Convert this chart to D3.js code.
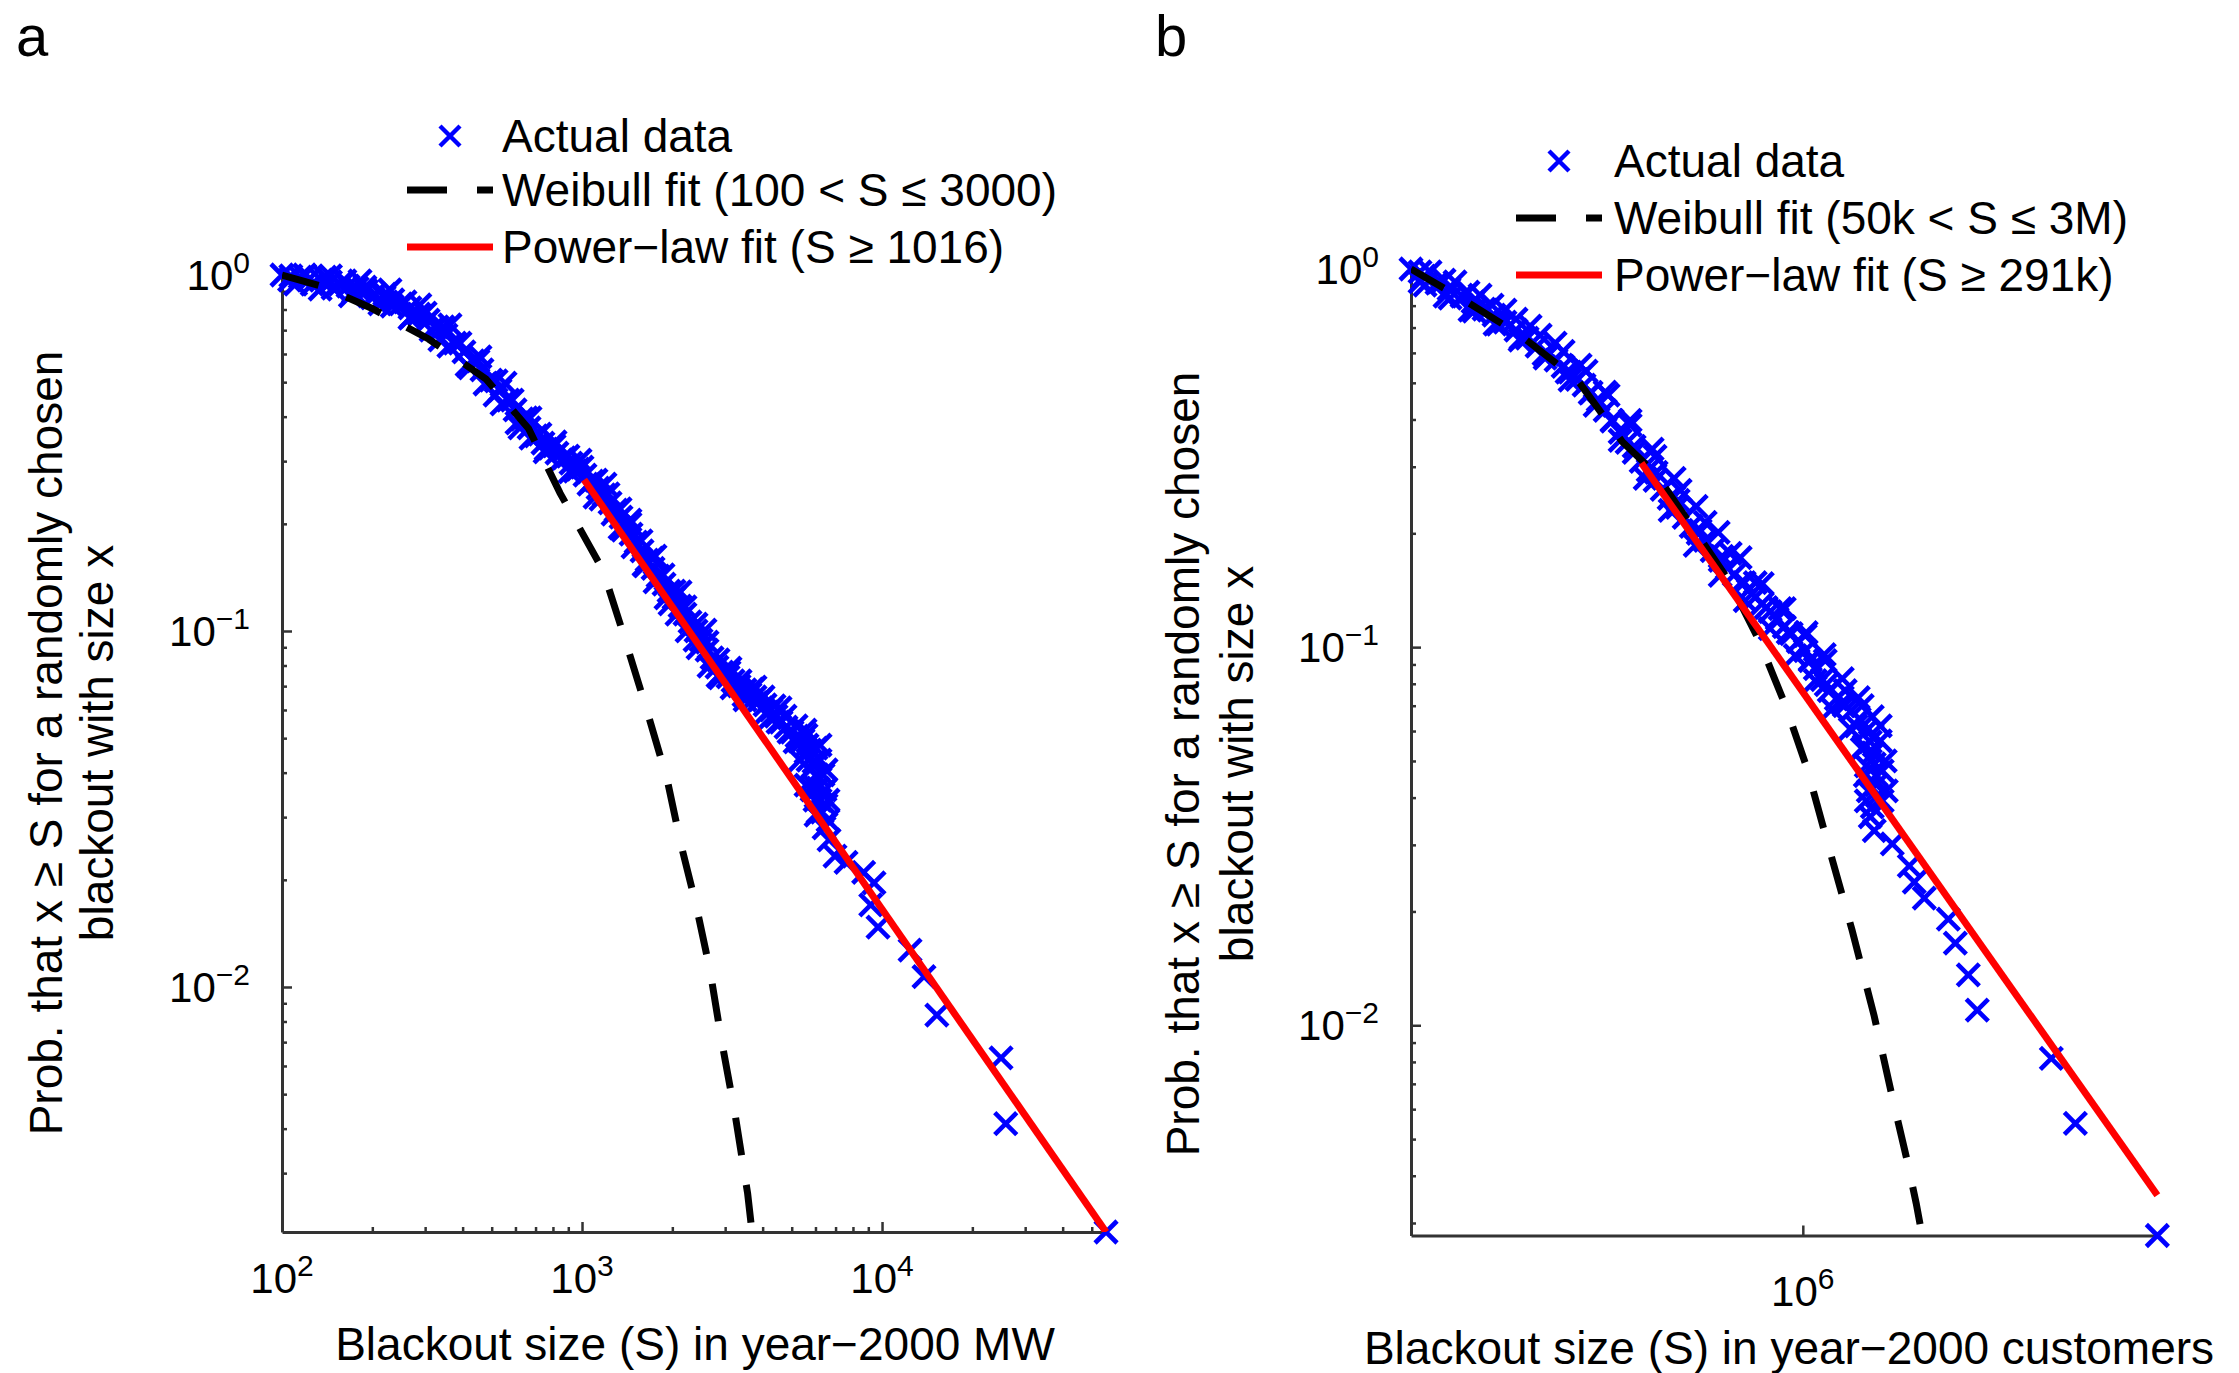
<!DOCTYPE html>
<html>
<head>
<meta charset="utf-8">
<script src="https://cdn.jsdelivr.net/npm/d3@7"></script>
<style>
  body { margin: 0; background: #fff; }
  svg { display: block; font-family: "Liberation Sans", Arial, Helvetica, sans-serif; }
</style>
</head>
<body>
<svg id="chart" width="2239" height="1373"></svg>
<script>
// ---------- panel a : blackout size in MW ----------
const mwSize = [100, 115, 135, 156, 178, 204, 234, 267, 307, 352,
  404, 464, 533, 598, 666, 741, 825, 919, 1023, 1131,
  1240, 1349, 1457, 1585, 1725, 1877, 2026, 2204, 2399, 2611,
  2818, 3067, 3337, 3631, 3920, 4266, 4607, 5012, 5454, 5754,
  5934, 6072, 6119, 6215, 6310, 6408, 6658, 6970, 7586, 8683,
  9404, 9170, 9698, 12400, 13800, 15230, 24930, 25840, 55800,
  // denser readings along the band
  107, 124, 145, 166, 191, 219, 249, 286, 329, 377,
  433, 497, 567, 631, 702, 782, 871, 970, 1080, 1184,
  1298, 1402, 1514, 1647, 1792, 1950, 2122, 2291, 2493, 2713,
  2929, 3187, 3494, 3773, 4074, 4434, 4786, 5208, 5623, 5330, 5580,
  // upper edge of the band
  145, 182, 229, 288, 363, 457, 554, 671, 813, 985,
  1193, 1445, 1751, 2122, 2570, 3114, 3773, 4571, 5538, 6215, 6506, 6607,
  // lower edge of the band
  111, 134, 169, 212, 267, 336, 423, 513, 621, 753,
  912, 1105, 1339, 1622, 1965, 2381, 2840, 3494, 4234, 5129, 5668, 5845, 6026,
  // between centre and upper edge
  119, 139, 162, 189, 220, 257, 300, 344, 392, 450,
  517, 585, 651, 724, 807, 898, 1000, 1113, 1221, 1339,
  1445, 1573, 1711, 1862, 2026, 2204, 2399, 2611, 2840, 3090,
  3363, 3687, 4012, 4365, 4750, 5168, 5581, 6026, 6215, 6359, 6457, 6506, 6607,
  // between centre and lower edge
  106, 126, 148, 173, 200, 233, 271, 314, 360, 414,
  475, 541, 607, 676, 759, 851, 948, 1055, 1157, 1269,
  1370, 1479, 1609, 1751, 1905, 2073, 2239, 2436, 2651, 2884,
  3162, 3467, 3802, 4138, 4501, 4898, 5288, 5581, 5754, 5888, 5979, 6119];
const mwProb = [1.0, 0.987, 0.968, 0.943, 0.919, 0.884, 0.851, 0.808, 0.747, 0.678,
  0.608, 0.541, 0.475, 0.418, 0.372, 0.337, 0.316, 0.296, 0.274, 0.252,
  0.229, 0.209, 0.187, 0.168, 0.150, 0.1355, 0.1238, 0.1116, 0.100, 0.0884,
  0.0792, 0.0743, 0.0701, 0.0665, 0.0640, 0.0600, 0.0555, 0.0520, 0.0494, 0.0463,
  0.0429, 0.0394, 0.0362, 0.0335, 0.0310, 0.0280, 0.0259, 0.0233, 0.0224, 0.0210,
  0.0196, 0.0170, 0.01474, 0.0127, 0.0107, 0.00834, 0.00632, 0.00413, 0.00205,
  0.994, 0.978, 0.956, 0.931, 0.902, 0.867, 0.829, 0.777, 0.7145, 0.644,
  0.5735, 0.507, 0.4455, 0.394, 0.353, 0.3266, 0.3062, 0.2851, 0.2638, 0.241,
  0.2187, 0.1985, 0.1778, 0.1582, 0.1427, 0.1295, 0.1175, 0.106, 0.0943, 0.084,
  0.0767, 0.0724, 0.0683, 0.0653, 0.062, 0.0577, 0.0537, 0.0507, 0.0478, 0.0434, 0.0369,
  0.994, 0.962, 0.908, 0.824, 0.724, 0.5885, 0.497, 0.3966, 0.3396, 0.302,
  0.2587, 0.2049, 0.1624, 0.1287, 0.1006, 0.0787, 0.0696, 0.0608, 0.0527, 0.0478, 0.0407, 0.0335,
  0.943, 0.913, 0.873, 0.829, 0.757, 0.657, 0.548, 0.460, 0.3718, 0.3183,
  0.2797, 0.2378, 0.1947, 0.1523, 0.1191, 0.0943, 0.0747, 0.0640, 0.0570, 0.0488, 0.0434, 0.0358, 0.0304,
  1.0, 0.987, 0.962, 0.925, 0.884, 0.840, 0.782, 0.7145, 0.644, 0.5735,
  0.504, 0.4455, 0.3966, 0.3575, 0.3309, 0.3101, 0.2888, 0.2655, 0.2426, 0.2202,
  0.1998, 0.1790, 0.1603, 0.1437, 0.1295, 0.1168, 0.1046, 0.0931, 0.0829, 0.0767,
  0.0724, 0.0687, 0.0653, 0.0616, 0.0577, 0.0541, 0.0510, 0.0469, 0.0434, 0.0394, 0.0358, 0.0324, 0.0294,
  0.968, 0.943, 0.919, 0.896, 0.862, 0.818, 0.767, 0.7006, 0.6317, 0.5587,
  0.4941, 0.4343, 0.3840, 0.3484, 0.3245, 0.3020, 0.2814, 0.2587, 0.2348, 0.2131,
  0.1921, 0.1722, 0.1533, 0.1373, 0.1238, 0.1116, 0.100, 0.0896, 0.0797, 0.0738,
  0.0692, 0.0661, 0.0628, 0.0592, 0.0555, 0.0520, 0.0491, 0.0457, 0.0407, 0.0369, 0.0335, 0.0310];
const mwWeibullSize = [100, 135, 198, 308, 479, 664, 845, 1175, 1380, 1634, 1920, 2138, 2399, 2673, 2904, 3236, 3565, 3687];
const mwWeibullProb = [1.0, 0.931, 0.808, 0.661, 0.510, 0.370, 0.244, 0.148, 0.0968, 0.061, 0.0384, 0.0251, 0.0170, 0.0111, 0.00724, 0.0044, 0.00263, 0.00205];
const mwPowerSize = [1016, 55800];
const mwPowerProb = [0.266, 0.00205];
const mwTicks = [1e2, 1e3, 1e4];
const mwLegend = ["Actual data", "Weibull fit (100 < S \u2264 3000)", "Power\u2212law fit (S \u2265 1016)"];

// ---------- panel b : blackout size in customers ----------
const custSize = [50000, 61000, 73860, 87380, 102600, 121500, 142700, 160000, 178000, 198200,
  220600, 247400, 275400, 306500, 341200, 382500, 425900, 474100, 531700, 591800,
  658700, 733300, 822200, 915200, 1.019e6, 1.100e6, 1.224e6, 1.373e6, 1.539e6, 1.624e6,
  1.675e6, 1.714e6, 1.727e6, 1.753e6, 1.753e6, 1.767e6, 1.701e6, 1.675e6, 1.727e6, 1.982e6,
  2.257e6, 2.345e6, 2.531e6, 3.042e6, 3.209e6, 3.544e6, 3.796e6, 6.687e6, 8.035e6, 1.504e7,
  // denser readings along the band
  55240, 66880, 80350, 94350, 111600, 131100, 151600, 168700, 187800, 209100,
  232700, 260900, 290500, 323200, 359800, 403600, 449300, 500000, 560900, 624300,
  694900, 779300, 867600, 965400, 1.058e6, 1.160e6, 1.291e6, 1.448e6,
  // upper edge of the band
  57830, 70000, 84770, 102600, 124300, 150500, 182200, 220600, 267100, 323200,
  391400, 474100, 574000, 695000, 841300, 1.019e6, 1.187e6, 1.383e6, 1.575e6, 1.808e6, 1.878e6, 1.893e6,
  // lower edge of the band
  53570, 64860, 78520, 95080, 115100, 139400, 168700, 204300, 247400, 299600,
  362600, 439100, 531700, 643700, 779300, 943700, 1.100e6, 1.252e6, 1.437e6, 1.575e6, 1.612e6, 1.624e6,
  // between centre and upper edge
  53570, 64370, 77330, 92920, 111600, 134200, 160000, 190700, 225700, 267100,
  316000, 373900, 442400, 523600, 619400, 733300, 867600, 1.026e6, 1.178e6, 1.352e6,
  1.528e6, 1.701e6, 1.808e6, 1.835e6, 1.835e6,
  // between centre and lower edge
  55670, 67400, 80990, 97280, 116000, 138300, 164900, 196700, 232700, 275400,
  325800, 385500, 456100, 539700, 638700, 755600, 894200, 1.058e6, 1.196e6, 1.352e6,
  1.504e6, 1.600e6, 1.624e6, 1.649e6];
const custProb = [1.0, 0.918, 0.848, 0.783, 0.724, 0.656, 0.595, 0.553, 0.511, 0.472,
  0.423, 0.370, 0.3275, 0.2935, 0.2614, 0.2342, 0.2086, 0.1915, 0.1695, 0.1556,
  0.1412, 0.1304, 0.1190, 0.1086, 0.0979, 0.0877, 0.0767, 0.0700, 0.0646, 0.0601,
  0.0562, 0.0525, 0.0491, 0.0459, 0.0432, 0.0404, 0.0378, 0.0356, 0.0327, 0.0302,
  0.0264, 0.0239, 0.0217, 0.0191, 0.0165, 0.0136, 0.01096, 0.00818, 0.0055, 0.00278,
  0.958, 0.885, 0.818, 0.755, 0.689, 0.625, 0.574, 0.5335, 0.493, 0.4497,
  0.3958, 0.348, 0.310, 0.276, 0.2474, 0.2203, 0.1999, 0.1801, 0.1624, 0.1482,
  0.1353, 0.1242, 0.1133, 0.1034, 0.0927, 0.0820, 0.0730, 0.0679,
  0.982, 0.924, 0.853, 0.779, 0.7065, 0.6366, 0.5568, 0.4722, 0.3862, 0.3196,
  0.2597, 0.2137, 0.1769, 0.1482, 0.1265, 0.1073, 0.0921, 0.0767, 0.0700, 0.0619, 0.0500, 0.0417,
  0.924, 0.848, 0.779, 0.715, 0.6484, 0.581, 0.508, 0.436, 0.3524, 0.2795,
  0.2298, 0.1857, 0.1547, 0.1328, 0.1119, 0.0949, 0.0815, 0.0687, 0.0608, 0.0538, 0.0457, 0.0392,
  0.982, 0.935, 0.869, 0.803, 0.737, 0.669, 0.606, 0.537, 0.4637, 0.398,
  0.3337, 0.2795, 0.2357, 0.2011, 0.1726, 0.1473, 0.1265, 0.1092, 0.0955, 0.0825,
  0.0735, 0.0655, 0.0565, 0.0471, 0.0392,
  0.907, 0.838, 0.774, 0.715, 0.6565, 0.5955, 0.5335, 0.4693, 0.398, 0.3398,
  0.290, 0.2444, 0.2035, 0.1737, 0.1482, 0.1272, 0.1092, 0.0921, 0.0796, 0.0713,
  0.0619, 0.0548, 0.0485, 0.0417];
const custWeibullSize = [50000, 74100, 115000, 178000, 251000, 325000, 456000, 571000, 716000, 874000, 1.035e6, 1.225e6, 1.456e6, 1.725e6, 1.98e6, 2.22e6, 2.38e6, 2.49e6];
const custWeibullProb = [1.0, 0.833, 0.669, 0.510, 0.350, 0.287, 0.194, 0.149, 0.104, 0.0704, 0.0476, 0.0292, 0.0179, 0.0106, 0.00648, 0.00439, 0.00338, 0.00278];
const custPowerSize = [291000, 1.504e7];
const custPowerProb = [0.307, 0.00355];
const custTicks = [1e6];
const custLegend = ["Actual data", "Weibull fit (50k < S \u2264 3M)", "Power\u2212law fit (S \u2265 291k)"];

const probTicks = [1, 0.1, 0.01];
const yTitle = ["Prob. that x \u2265 S for a randomly chosen", "blackout with size x"];

const svg = d3.select("#chart");
svg.append("rect").attr("width", 2239).attr("height", 1373).attr("fill", "#fff");

const blue = "#0000ff", red = "#ff0000", axisColor = "#333";

// superscript power-of-ten label
function powLabel(sel, v) {
  const e = Math.round(Math.log10(v));
  sel.append("tspan").text("10");
  sel.append("tspan").attr("dy", -17).attr("font-size", 30).text(e < 0 ? "\u2212" + (-e) : String(e));
}

function xMark(r) {
  return `M${-r},${-r}L${r},${r}M${-r},${r}L${r},${-r}`;
}

function drawPanel(p) {
  const x = d3.scaleLog().domain(p.xDomain).range(p.xRange);
  const y = d3.scaleLog().domain(p.yDomain).range(p.yRange);
  const g = svg.append("g");

  // panel letter
  g.append("text").attr("x", p.letterX).attr("y", 56).attr("font-size", 58).text(p.letter);

  // axes (ticks point inward)
  g.append("g").attr("transform", `translate(0,${p.yRange[0]})`)
    .call(d3.axisBottom(x).tickValues(p.xTicks).tickSize(-10).tickSizeOuter(0).tickFormat(""));
  if (p.xMinor) {
    const minor = x.ticks().filter(t => !p.xTicks.includes(t));
    g.append("g").attr("transform", `translate(0,${p.yRange[0]})`)
      .call(d3.axisBottom(x).tickValues(minor).tickSize(-5).tickSizeOuter(0).tickFormat(""))
      .call(a => a.select(".domain").remove());
  }
  g.append("g").attr("transform", `translate(${p.xRange[0]},0)`)
    .call(d3.axisLeft(y).tickValues(probTicks).tickSize(-10).tickSizeOuter(0).tickFormat(""));
  const yMinor = y.ticks().filter(t => !probTicks.some(m => Math.abs(m - t) < 1e-9));
  g.append("g").attr("transform", `translate(${p.xRange[0]},0)`)
    .call(d3.axisLeft(y).tickValues(yMinor).tickSize(-5).tickSizeOuter(0).tickFormat(""))
    .call(a => a.select(".domain").remove());
  g.selectAll(".domain").attr("stroke", axisColor).attr("stroke-width", 3);
  g.selectAll(".tick line").attr("stroke", axisColor).attr("stroke-width", 2.5);

  // tick labels
  p.xTicks.forEach(t => {
    g.append("text").attr("x", x(t)).attr("y", p.yRange[0] + p.xLabelDy)
      .attr("text-anchor", "middle").attr("font-size", 42).call(powLabel, t);
  });
  probTicks.forEach(t => {
    g.append("text").attr("x", p.xRange[0] - 32).attr("y", y(t) + 15)
      .attr("text-anchor", "end").attr("font-size", 42).call(powLabel, t);
  });

  // axis titles
  g.append("text").attr("x", p.xTitleX).attr("y", p.xTitleY)
    .attr("text-anchor", "middle").attr("font-size", 46).text(p.xTitle);
  yTitle.forEach((line, i) => {
    g.append("text")
      .attr("transform", `translate(${p.yTitleX[i]},${p.yTitleY}) rotate(-90)`)
      .attr("text-anchor", "middle").attr("font-size", 46).text(line);
  });

  // data markers
  g.append("g").selectAll("path")
    .data(p.size.map((s, i) => [s, p.prob[i]]))
    .join("path")
    .attr("transform", d => `translate(${x(d[0])},${y(d[1])})`)
    .attr("d", xMark(11))
    .attr("fill", "none").attr("stroke", blue).attr("stroke-width", 4.6);

  // fitted curves, clipped to the plot area
  const clipId = "clip-" + p.letter;
  g.append("clipPath").attr("id", clipId).append("rect")
    .attr("x", p.xRange[0]).attr("y", p.yRange[1] - 20)
    .attr("width", p.xRange[1] - p.xRange[0] + 20).attr("height", p.yRange[0] - p.yRange[1] + 20);
  const line = d3.line().x(d => x(d[0])).y(d => y(d[1]));
  g.append("path").attr("clip-path", `url(#${clipId})`)
    .attr("d", line(p.wSize.map((s, i) => [s, p.wProb[i]])))
    .attr("fill", "none").attr("stroke", "#000").attr("stroke-width", 7).attr("stroke-dasharray", "38,30");
  g.append("path").attr("clip-path", `url(#${clipId})`)
    .attr("d", line(p.pSize.map((s, i) => [s, p.pProb[i]])))
    .attr("fill", "none").attr("stroke", red).attr("stroke-width", 7);

  // legend
  const lx = p.legendX, tx = p.legendTextX;
  p.legend.forEach((label, i) => {
    const cy = p.legendY[i];
    if (i === 0) {
      g.append("path").attr("transform", `translate(${lx + 43},${cy})`).attr("d", xMark(10))
        .attr("fill", "none").attr("stroke", blue).attr("stroke-width", 4.4);
    } else {
      g.append("line").attr("x1", lx).attr("x2", lx + 86).attr("y1", cy).attr("y2", cy)
        .attr("stroke", i === 1 ? "#000" : red).attr("stroke-width", 7)
        .attr("stroke-dasharray", i === 1 ? "40,30" : null);
    }
    g.append("text").attr("x", tx).attr("y", cy + 16).attr("font-size", 46).text(label);
  });
}

drawPanel({
  letter: "a", letterX: 16,
  size: mwSize, prob: mwProb,
  wSize: mwWeibullSize, wProb: mwWeibullProb,
  pSize: mwPowerSize, pProb: mwPowerProb,
  xDomain: [100, 56000], yDomain: [0.00205, 1],
  xRange: [282, 1106.5], yRange: [1232, 275],
  xTicks: mwTicks, xMinor: true, xLabelDy: 61,
  xTitle: "Blackout size (S) in year\u22122000 MW", xTitleX: 695, xTitleY: 1360,
  yTitleX: [62, 113], yTitleY: 743,
  legend: mwLegend, legendX: 407, legendTextX: 502, legendY: [136, 190, 247]
});

drawPanel({
  letter: "b", letterX: 1155,
  size: custSize, prob: custProb,
  wSize: custWeibullSize, wProb: custWeibullProb,
  pSize: custPowerSize, pProb: custPowerProb,
  xDomain: [50000, 1.5e7], yDomain: [0.00278, 1],
  xRange: [1411, 2157], yRange: [1235.5, 269],
  xTicks: custTicks, xMinor: false, xLabelDy: 70,
  xTitle: "Blackout size (S) in year\u22122000 customers", xTitleX: 1789, xTitleY: 1364,
  yTitleX: [1199, 1253], yTitleY: 764,
  legend: custLegend, legendX: 1516, legendTextX: 1614, legendY: [161, 218, 275]
});
</script>
</body>
</html>
